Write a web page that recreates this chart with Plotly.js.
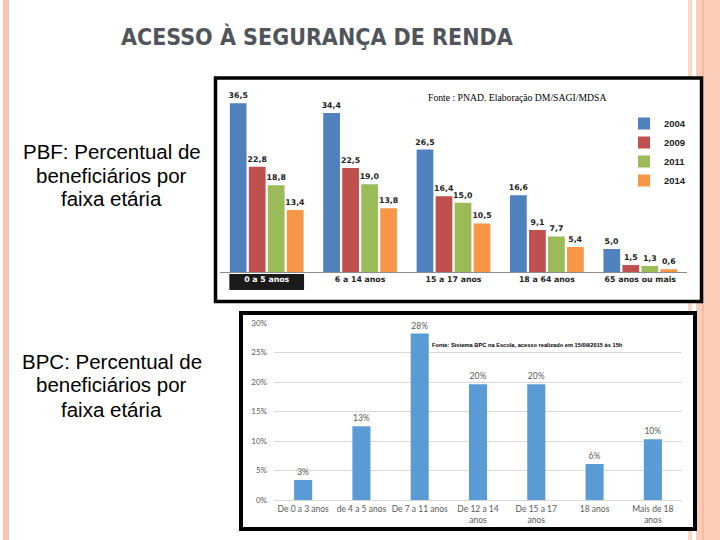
<!DOCTYPE html>
<html>
<head>
<meta charset="utf-8">
<script src="https://cdn.plot.ly/plotly-3.0.1.min.js"></script>
<style>
  body { margin: 0; background: #fff; }
  #chart { width: 720px; height: 540px; }
</style>
</head>
<body>
<div id="chart"></div>
<script>
// PBF chart (top)
const pbfAges = ['0 a 5 anos', '6 a 14 anos', '15 a 17 anos', '18 a 64 anos', '65 anos ou mais'];
const pbfYears = ['2004', '2009', '2011', '2014'];
const pbf2004 = [36.5, 34.4, 26.5, 16.6, 5.0];
const pbf2009 = [22.8, 22.5, 16.4, 9.1, 1.5];
const pbf2011 = [18.8, 19.0, 15.0, 7.7, 1.3];
const pbf2014 = [13.4, 13.8, 10.5, 5.4, 0.6];
const pbfColors = ['#4f81bd', '#c0504d', '#9bbb59', '#f79646'];

// BPC chart (bottom)
const bpcAges = ['De 0 a 3 anos', 'de 4 a 5 anos', 'De 7 a 11 anos', 'De 12 a 14<br>anos',
                 'De 15 a 17<br>anos', '18 anos', 'Mais de 18<br>anos'];
const bpcShare = [3.4, 12.5, 28.2, 19.6, 19.6, 6.1, 10.3];

// side captions, one entry per line
const pbfCaption = ['PBF: Percentual de', 'beneficiários por', 'faixa etária'];
const bpcCaption = ['BPC: Percentual de', 'beneficiários por', 'faixa etária'];

// px -> paper helpers (margins are zero, so paper = the whole 720x540 page)
const px = v => v / 720;
const py = v => 1 - v / 540;

const pbfSeries = [pbf2004, pbf2009, pbf2011, pbf2014];
const traces = pbfSeries.map((vals, i) => ({
  type: 'bar',
  name: pbfYears[i],
  x: pbfAges,
  y: vals,
  xaxis: 'x',
  yaxis: 'y',
  marker: {color: pbfColors[i]},
  texttemplate: '%{y:.1f}',
  textposition: 'outside',
  constraintext: 'none',
  cliponaxis: false,
  textfont: {family: 'DejaVu Sans', size: 7.8, color: '#222', weight: 'bold'},
  hoverinfo: 'skip'
}));

traces.push({
  type: 'bar',
  name: 'BPC',
  x: bpcAges,
  y: bpcShare,
  xaxis: 'x2',
  yaxis: 'y2',
  width: 0.31,
  marker: {color: '#5b9bd5'},
  texttemplate: '%{y:.0f}%',
  textposition: 'outside',
  constraintext: 'none',
  cliponaxis: false,
  textfont: {family: 'Lato', size: 8.5, color: '#595959'},
  showlegend: false,
  hoverinfo: 'skip'
});

const pbfTickText = pbfAges.map((a, i) =>
  i === 0 ? '<span style="color:#ffffff">' + a + '</span>' : a);

const captionNotes = (lines, firstY) => lines.map((t, i) => ({
  text: t, xref: 'paper', yref: 'paper',
  x: px(111.5), y: py(firstY + i * 24), xanchor: 'center', yanchor: 'middle',
  showarrow: false,
  font: {family: 'Liberation Sans', size: 20.5, color: '#000'}
}));

const layout = {
  width: 720,
  height: 540,
  margin: {l: 0, r: 0, t: 0, b: 0},
  paper_bgcolor: '#ffffff',
  plot_bgcolor: 'rgba(0,0,0,0)',
  separators: ',.',
  barmode: 'group',
  bargap: 0.186,
  bargroupgap: 0.12,
  showlegend: true,
  legend: {
    x: px(624), y: py(109), xanchor: 'left', yanchor: 'top',
    bgcolor: 'rgba(0,0,0,0)',
    font: {family: 'Liberation Sans', size: 9.5, color: '#222', weight: 'bold'},
    tracegroupgap: 0
  },
  xaxis: {
    domain: [px(220), px(687)],
    anchor: 'y',
    showline: true, linecolor: '#8c8c8c', linewidth: 1,
    ticks: '', showgrid: false,
    tickmode: 'array', tickvals: pbfAges, ticktext: pbfTickText,
    tickfont: {family: 'DejaVu Sans', size: 7.8, color: '#222', weight: 'bold'},
    fixedrange: true
  },
  yaxis: {
    domain: [py(272), py(87.2)],
    anchor: 'x',
    range: [0, 40],
    visible: false,
    fixedrange: true
  },
  xaxis2: {
    domain: [px(274), px(682)],
    anchor: 'y2',
    showline: false, ticks: '', showgrid: false,
    ticklabelstandoff: 2,
    tickfont: {family: 'Lato', size: 8.5, color: '#595959'},
    fixedrange: true
  },
  yaxis2: {
    domain: [py(500), py(323)],
    anchor: 'x2',
    range: [0, 30],
    dtick: 5,
    ticksuffix: '%',
    showgrid: true, gridcolor: '#d9d9d9', gridwidth: 1,
    zeroline: true, zerolinecolor: '#d9d9d9',
    showline: false, ticks: '',
    ticklabelstandoff: 6,
    tickfont: {family: 'Lato', size: 8, color: '#595959'},
    fixedrange: true
  },
  shapes: [
    // slide decoration stripes
    {type: 'rect', xref: 'paper', yref: 'paper', layer: 'below',
     x0: px(3), x1: px(9), y0: 0, y1: 1, fillcolor: '#f7c5b1', line: {width: 0}},
    {type: 'rect', xref: 'paper', yref: 'paper', layer: 'below',
     x0: px(688), x1: px(692), y0: 0, y1: 1, fillcolor: '#fbd6c6', line: {width: 0}},
    {type: 'rect', xref: 'paper', yref: 'paper', layer: 'below',
     x0: px(696), x1: px(720), y0: 0, y1: 1, fillcolor: '#fccdb9', line: {width: 0}},
    {type: 'rect', xref: 'paper', yref: 'paper', layer: 'below',
     x0: px(702.5), x1: px(703.5), y0: 0, y1: 1, fillcolor: '#f3a98b', line: {width: 0}},
    // chart frames
    {type: 'rect', xref: 'paper', yref: 'paper', layer: 'below',
     x0: px(215.5), x1: px(701.5), y0: py(78), y1: py(301.5),
     fillcolor: '#ffffff', line: {color: '#000', width: 3.5}},
    {type: 'rect', xref: 'paper', yref: 'paper', layer: 'below',
     x0: px(241), x1: px(695), y0: py(313), y1: py(529),
     fillcolor: '#ffffff', line: {color: '#000', width: 4}},
    // black label box under the first PBF category
    {type: 'rect', xref: 'x', yref: 'paper', layer: 'below',
     x0: -0.4, x1: 0.4, y0: py(274), y1: py(290),
     fillcolor: '#1a1a1a', line: {width: 0}}
  ],
  annotations: [
    {text: 'ACESSO À SEGURANÇA DE RENDA', xref: 'paper', yref: 'paper',
     x: px(316.5), y: py(36.5), xanchor: 'center', yanchor: 'middle', showarrow: false,
     font: {family: 'DejaVu Sans Condensed, Liberation Sans', size: 23, color: '#50555b', weight: 'bold'}},
    {text: 'Fonte : PNAD. Elaboração DM/SAGI/MDSA', xref: 'paper', yref: 'paper',
     x: px(517), y: py(98), xanchor: 'center', yanchor: 'middle', showarrow: false,
     font: {family: 'Liberation Serif', size: 9.7, color: '#000'}},
    {text: 'Fonte: Sistema BPC na Escola, acesso realizado em 15/09/2015 às 15h', xref: 'paper', yref: 'paper',
     x: px(430), y: py(345), xanchor: 'left', yanchor: 'middle', showarrow: false,
     font: {family: 'Liberation Sans', size: 5.7, color: '#000', weight: 'bold'}}
  ].concat(captionNotes(pbfCaption, 151), captionNotes(bpcCaption, 361))
};

Plotly.newPlot('chart', traces, layout, {staticPlot: true});
</script>
</body>
</html>
